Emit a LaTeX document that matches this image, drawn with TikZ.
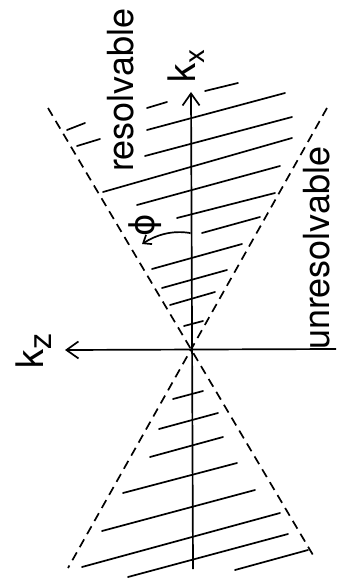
\documentclass[tikz,border=0pt]{standalone}
\usepackage{fontspec}
\setmainfont{TeX Gyre Heros}
\newfontfamily\dejavu{DejaVu Sans}
\usetikzlibrary{arrows.meta}
\begin{document}
\begin{tikzpicture}[x=1pt,y=-1pt,
  hatch/.style={line width=1.7pt,line cap=round},
  bound/.style={line width=1.7pt,dash pattern=on 9pt off 6pt},
  axisline/.style={line width=1.7pt,-{Straight Barb[length=12pt,width=17pt,line width=1.7pt]}},
  lbl/.style={rotate=90,inner sep=0pt,font=\fontsize{36}{40}\selectfont},
  klbl/.style={rotate=90,inner sep=0pt,font=\fontsize{38}{40}\selectfont},
]
\useasboundingbox (0,0) rectangle (338,583);
% axes
\coordinate (O) at (192,350);
\coordinate (xbot) at (193,569);
\coordinate (xtop) at (191,92);
\coordinate (zright) at (336,349);
\coordinate (zleft) at (65,350);
\draw[axisline] (xbot) -- (xtop);
\draw[axisline] (zright) -- (zleft);
% dashed boundaries
\coordinate (A1) at (48,108);
\coordinate (A2) at (313,555);
\coordinate (B1) at (327,108);
\coordinate (B2) at (68,568);
\draw[bound] (A1) -- (A2);
\draw[bound] (B1) -- (B2);
% hatching, upper cone
\draw[hatch] (67,130) -- (85,123);
\draw[hatch] (147,108) -- (167,102);
\draw[hatch] (205,91) -- (238,83);
\draw[hatch] (77,146) -- (100,139);
\draw[hatch] (147,130) -- (285,93);
\draw[hatch] (145,156) -- (292,117);
\draw[hatch] (103,192) -- (292,138);
\draw[hatch] (137,205) -- (280,166);
\draw[hatch] (177,218) -- (275,193);
\draw[hatch] (202,233) -- (260,217);
\draw[hatch] (152,269) -- (242,244);
\draw[hatch] (162,288) -- (227,270);
\draw[hatch] (170,305) -- (215,292);
\draw[hatch] (184,326) -- (203,321);
% hatching, lower cone
\draw[hatch] (173,399) -- (203,391);
\draw[hatch] (159,429) -- (218,413);
\draw[hatch] (150,457) -- (223,437);
\draw[hatch] (123,493) -- (237,463);
\draw[hatch] (102,531) -- (255,490);
\draw[hatch] (82,567) -- (280,513);
\draw[hatch] (128,577) -- (288,534);
\draw[hatch] (235,570) -- (308,550);
% angle phi
\coordinate (phA) at (190,233);
\coordinate (phB) at (142,244);
\draw[hatch,-{Straight Barb[length=7pt,width=11pt,line width=1.7pt]}] (phA) .. controls (172,230) and (156,235) .. (phB);
\node[rotate=90,inner sep=0pt,font=\dejavu\fontsize{34}{36}\selectfont] (phi) at (145,225) {ϕ};
% labels
\node[lbl,anchor=base west] (res) at (133,172) {resolvable};
\node[lbl,anchor=base west] (unres) at (329,350) {unresolvable};
\node[klbl,anchor=base west] (kx) at (195,83) {k{\fontsize{28}{30}\selectfont\raisebox{-9pt}{x}}};
\node[klbl,anchor=base west] (kz) at (43,369) {k{\fontsize{32}{34}\selectfont\raisebox{-8pt}{z}}};
\end{tikzpicture}
\end{document}
